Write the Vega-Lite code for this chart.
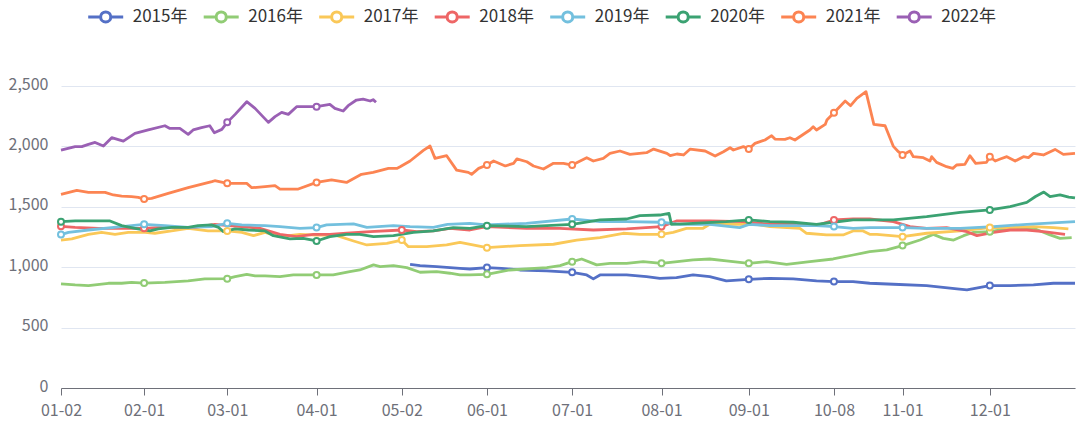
{
"$schema":"https://vega.github.io/schema/vega-lite/v6.json",
"width":1014,"height":302,
"autosize":{"type":"none"},
"padding":{"left":61,"top":86,"right":5,"bottom":35},
"background":"white",
"config":{"view":{"stroke":null},"font":"Noto Sans CJK SC"},
"data":{"values":[
{"s":"2015年","d":84,"v":1024},{"s":"2015年","d":86.4,"v":1013},{"s":"2015年","d":90.4,"v":1005},{"s":"2015年","d":93.6,"v":997},{"s":"2015年","d":96,"v":991},{"s":"2015年","d":98.4,"v":985},{"s":"2015年","d":102.5,"v":997,"m":1},{"s":"2015年","d":106,"v":990},{"s":"2015年","d":110.4,"v":977},{"s":"2015年","d":116.9,"v":969},{"s":"2015年","d":123,"v":958,"m":1},{"s":"2015年","d":126.5,"v":936},{"s":"2015年","d":128.1,"v":903},{"s":"2015年","d":129.7,"v":936},{"s":"2015年","d":136.1,"v":936},{"s":"2015年","d":140.9,"v":922},{"s":"2015年","d":144.1,"v":908},{"s":"2015年","d":148.1,"v":914},{"s":"2015年","d":152.1,"v":936},{"s":"2015年","d":156.1,"v":922},{"s":"2015年","d":160.1,"v":886},{"s":"2015年","d":165.5,"v":900,"m":1},{"s":"2015年","d":170.6,"v":908},{"s":"2015年","d":176.2,"v":903},{"s":"2015年","d":181.8,"v":886},{"s":"2015年","d":186,"v":881,"m":1},{"s":"2015年","d":190.6,"v":881},{"s":"2015年","d":194.6,"v":867},{"s":"2015年","d":200.3,"v":859},{"s":"2015年","d":208.3,"v":848},{"s":"2015年","d":215.6,"v":820},{"s":"2015年","d":218,"v":812},{"s":"2015年","d":223.5,"v":848,"m":1},{"s":"2015年","d":228.4,"v":848},{"s":"2015年","d":234,"v":853},{"s":"2015年","d":238.8,"v":867},{"s":"2015年","d":244,"v":867},
{"s":"2016年","d":0,"v":862},{"s":"2016年","d":3.4,"v":853},{"s":"2016年","d":6.6,"v":848},{"s":"2016年","d":11.4,"v":867},{"s":"2016年","d":14.6,"v":867},{"s":"2016年","d":17,"v":875},{"s":"2016年","d":20,"v":869,"m":1},{"s":"2016年","d":25,"v":875},{"s":"2016年","d":30.6,"v":886},{"s":"2016年","d":34.6,"v":903},{"s":"2016年","d":40,"v":905,"m":1},{"s":"2016年","d":41.9,"v":922},{"s":"2016年","d":44.7,"v":941},{"s":"2016年","d":46.7,"v":928},{"s":"2016年","d":49.1,"v":928},{"s":"2016年","d":52.7,"v":922},{"s":"2016年","d":55.9,"v":936},{"s":"2016年","d":61.5,"v":936,"m":1},{"s":"2016年","d":65.5,"v":936},{"s":"2016年","d":69.5,"v":963},{"s":"2016年","d":71.9,"v":977},{"s":"2016年","d":75.2,"v":1019},{"s":"2016年","d":76.8,"v":1005},{"s":"2016年","d":80,"v":1013},{"s":"2016年","d":83.2,"v":997},{"s":"2016年","d":86.4,"v":958},{"s":"2016年","d":90.4,"v":963},{"s":"2016年","d":93.6,"v":950},{"s":"2016年","d":96,"v":936},{"s":"2016年","d":98.4,"v":936},{"s":"2016年","d":102.5,"v":941,"m":1},{"s":"2016年","d":108,"v":977},{"s":"2016年","d":116.9,"v":997},{"s":"2016年","d":120.1,"v":1013},{"s":"2016年","d":123,"v":1046,"m":1},{"s":"2016年","d":125.3,"v":1068},{"s":"2016年","d":128.9,"v":1019},{"s":"2016年","d":132.1,"v":1032},{"s":"2016年","d":136.1,"v":1032},{"s":"2016年","d":140.1,"v":1046},{"s":"2016年","d":144.5,"v":1032,"m":1},{"s":"2016年","d":152.1,"v":1060},{"s":"2016年","d":156.1,"v":1068},{"s":"2016年","d":160.1,"v":1052},{"s":"2016年","d":165.5,"v":1032,"m":1},{"s":"2016年","d":169.8,"v":1046},{"s":"2016年","d":174.6,"v":1024},{"s":"2016年","d":180.2,"v":1046},{"s":"2016年","d":185.8,"v":1068},{"s":"2016年","d":190.6,"v":1101},{"s":"2016年","d":194.6,"v":1129},{"s":"2016年","d":198.7,"v":1143},{"s":"2016年","d":202.5,"v":1179,"m":1},{"s":"2016年","d":206.7,"v":1225},{"s":"2016年","d":209.9,"v":1272},{"s":"2016年","d":212.3,"v":1239},{"s":"2016年","d":214.8,"v":1225},{"s":"2016年","d":217.2,"v":1261},{"s":"2016年","d":219.6,"v":1289},{"s":"2016年","d":223.5,"v":1294,"m":1},{"s":"2016年","d":228.4,"v":1322},{"s":"2016年","d":234,"v":1322},{"s":"2016年","d":238,"v":1267},{"s":"2016年","d":240.4,"v":1239},{"s":"2016年","d":243.2,"v":1245},
{"s":"2017年","d":0,"v":1225},{"s":"2017年","d":2.6,"v":1234},{"s":"2017年","d":6.6,"v":1272},{"s":"2017年","d":9.8,"v":1289},{"s":"2017年","d":13,"v":1272},{"s":"2017年","d":16.2,"v":1289},{"s":"2017年","d":20.2,"v":1289},{"s":"2017年","d":22.6,"v":1281},{"s":"2017年","d":26.6,"v":1300},{"s":"2017年","d":30.6,"v":1322},{"s":"2017年","d":35.4,"v":1300},{"s":"2017年","d":40,"v":1300,"m":1},{"s":"2017年","d":43.5,"v":1289},{"s":"2017年","d":46.3,"v":1261},{"s":"2017年","d":49.1,"v":1289},{"s":"2017年","d":52.7,"v":1253},{"s":"2017年","d":57.5,"v":1272},{"s":"2017年","d":61.5,"v":1265},{"s":"2017年","d":66,"v":1265},{"s":"2017年","d":70.4,"v":1217},{"s":"2017年","d":73.6,"v":1184},{"s":"2017年","d":78.4,"v":1198},{"s":"2017年","d":82,"v":1225,"m":1},{"s":"2017年","d":83.6,"v":1170},{"s":"2017年","d":88,"v":1170},{"s":"2017年","d":92.8,"v":1184},{"s":"2017年","d":96,"v":1205},{"s":"2017年","d":102.5,"v":1162,"m":1},{"s":"2017年","d":110.4,"v":1179},{"s":"2017年","d":118.5,"v":1190},{"s":"2017年","d":124.1,"v":1225},{"s":"2017年","d":129.7,"v":1245},{"s":"2017年","d":135.3,"v":1281},{"s":"2017年","d":139.3,"v":1272},{"s":"2017年","d":144.5,"v":1272,"m":1},{"s":"2017年","d":147.3,"v":1289},{"s":"2017年","d":150.5,"v":1322},{"s":"2017年","d":154.5,"v":1322},{"s":"2017年","d":156.1,"v":1355},{"s":"2017年","d":164.1,"v":1355},{"s":"2017年","d":165.8,"v":1363},{"s":"2017年","d":170.6,"v":1336},{"s":"2017年","d":177.8,"v":1322},{"s":"2017年","d":179.4,"v":1281},{"s":"2017年","d":184.2,"v":1267},{"s":"2017年","d":188.2,"v":1267},{"s":"2017年","d":190.6,"v":1300},{"s":"2017年","d":193,"v":1300},{"s":"2017年","d":194.6,"v":1272},{"s":"2017年","d":196.3,"v":1272},{"s":"2017年","d":202.5,"v":1253,"m":1},{"s":"2017年","d":208.3,"v":1281},{"s":"2017年","d":216.4,"v":1300},{"s":"2017年","d":223.5,"v":1328,"m":1},{"s":"2017年","d":228.4,"v":1328},{"s":"2017年","d":234,"v":1336},{"s":"2017年","d":238.8,"v":1328},{"s":"2017年","d":242.4,"v":1317},
{"s":"2018年","d":0,"v":1338,"m":1},{"s":"2018年","d":3.4,"v":1330},{"s":"2018年","d":9,"v":1322},{"s":"2018年","d":14.6,"v":1322},{"s":"2018年","d":20,"v":1322,"m":1},{"s":"2018年","d":24.2,"v":1330},{"s":"2018年","d":32.2,"v":1330},{"s":"2018年","d":37,"v":1355},{"s":"2018年","d":40.3,"v":1344},{"s":"2018年","d":43.5,"v":1336},{"s":"2018年","d":47.9,"v":1322},{"s":"2018年","d":52.7,"v":1272},{"s":"2018年","d":56.7,"v":1253},{"s":"2018年","d":60.7,"v":1272},{"s":"2018年","d":64.7,"v":1272},{"s":"2018年","d":68.7,"v":1281},{"s":"2018年","d":74.4,"v":1294},{"s":"2018年","d":82,"v":1308,"m":1},{"s":"2018年","d":85.6,"v":1294},{"s":"2018年","d":89.6,"v":1300},{"s":"2018年","d":93.6,"v":1322},{"s":"2018年","d":98.4,"v":1308},{"s":"2018年","d":102.4,"v":1336},{"s":"2018年","d":112,"v":1322},{"s":"2018年","d":120,"v":1322},{"s":"2018年","d":128.1,"v":1308},{"s":"2018年","d":136.1,"v":1317},{"s":"2018年","d":144.5,"v":1336,"m":1},{"s":"2018年","d":148.1,"v":1383},{"s":"2018年","d":156.1,"v":1383},{"s":"2018年","d":164.1,"v":1377},{"s":"2018年","d":170.6,"v":1355},{"s":"2018年","d":176.2,"v":1363},{"s":"2018年","d":181.8,"v":1344},{"s":"2018年","d":186,"v":1391,"m":1},{"s":"2018年","d":190.6,"v":1399},{"s":"2018年","d":194.6,"v":1399},{"s":"2018年","d":200.3,"v":1377},{"s":"2018年","d":204.3,"v":1336},{"s":"2018年","d":208.3,"v":1322},{"s":"2018年","d":213.1,"v":1328},{"s":"2018年","d":218,"v":1294},{"s":"2018年","d":220.4,"v":1261},{"s":"2018年","d":224.4,"v":1289},{"s":"2018年","d":228.4,"v":1308},{"s":"2018年","d":232.4,"v":1308},{"s":"2018年","d":236.4,"v":1294},{"s":"2018年","d":241.6,"v":1272},
{"s":"2019年","d":0,"v":1270,"m":1},{"s":"2019年","d":1.8,"v":1289},{"s":"2019年","d":6.6,"v":1308},{"s":"2019年","d":14.6,"v":1336},{"s":"2019年","d":20,"v":1355,"m":1},{"s":"2019年","d":25,"v":1344},{"s":"2019年","d":30.6,"v":1330},{"s":"2019年","d":36.2,"v":1336},{"s":"2019年","d":40,"v":1363,"m":1},{"s":"2019年","d":43.5,"v":1350},{"s":"2019年","d":49.1,"v":1344},{"s":"2019年","d":52.7,"v":1336},{"s":"2019年","d":57.5,"v":1322},{"s":"2019年","d":61.5,"v":1328,"m":1},{"s":"2019年","d":63.9,"v":1350},{"s":"2019年","d":70.4,"v":1358},{"s":"2019年","d":73.6,"v":1330},{"s":"2019年","d":80,"v":1344},{"s":"2019年","d":84,"v":1336},{"s":"2019年","d":89.6,"v":1330},{"s":"2019年","d":93,"v":1355},{"s":"2019年","d":98.4,"v":1363},{"s":"2019年","d":102.4,"v":1350},{"s":"2019年","d":112,"v":1363},{"s":"2019年","d":123,"v":1399,"m":1},{"s":"2019年","d":129.7,"v":1377},{"s":"2019年","d":136.1,"v":1377},{"s":"2019年","d":144.5,"v":1372,"m":1},{"s":"2019年","d":148.9,"v":1355},{"s":"2019年","d":156.1,"v":1355},{"s":"2019年","d":163.3,"v":1328},{"s":"2019年","d":165.6,"v":1355},{"s":"2019年","d":170.6,"v":1344},{"s":"2019年","d":176.2,"v":1344},{"s":"2019年","d":181.8,"v":1344},{"s":"2019年","d":186,"v":1336,"m":1},{"s":"2019年","d":190.6,"v":1322},{"s":"2019年","d":194.6,"v":1328},{"s":"2019年","d":202.5,"v":1328,"m":1},{"s":"2019年","d":208.3,"v":1322},{"s":"2019年","d":216.4,"v":1322},{"s":"2019年","d":224.4,"v":1336},{"s":"2019年","d":232.4,"v":1355},{"s":"2019年","d":244,"v":1377},
{"s":"2020年","d":0,"v":1377,"m":1},{"s":"2020年","d":3.4,"v":1383},{"s":"2020年","d":6.6,"v":1383},{"s":"2020年","d":11.8,"v":1383},{"s":"2020年","d":14.6,"v":1344},{"s":"2020年","d":17.8,"v":1322},{"s":"2020年","d":21.4,"v":1300},{"s":"2020年","d":23.4,"v":1317},{"s":"2020年","d":26.6,"v":1330},{"s":"2020年","d":30.6,"v":1330},{"s":"2020年","d":33,"v":1344},{"s":"2020年","d":36.2,"v":1350},{"s":"2020年","d":37.9,"v":1330},{"s":"2020年","d":39.1,"v":1294},{"s":"2020年","d":41.9,"v":1317},{"s":"2020年","d":45.1,"v":1308},{"s":"2020年","d":49.1,"v":1300},{"s":"2020年","d":51.1,"v":1261},{"s":"2020年","d":55.1,"v":1234},{"s":"2020年","d":58.3,"v":1239},{"s":"2020年","d":61.5,"v":1217,"m":1},{"s":"2020年","d":64.7,"v":1253},{"s":"2020年","d":68.7,"v":1272},{"s":"2020年","d":71.9,"v":1272},{"s":"2020年","d":75.2,"v":1253},{"s":"2020年","d":80,"v":1261},{"s":"2020年","d":84.8,"v":1289},{"s":"2020年","d":89.6,"v":1300},{"s":"2020年","d":94.4,"v":1328},{"s":"2020年","d":98.4,"v":1322},{"s":"2020年","d":102.5,"v":1344,"m":1},{"s":"2020年","d":112,"v":1336},{"s":"2020年","d":123,"v":1355,"m":1},{"s":"2020年","d":129.7,"v":1391},{"s":"2020年","d":136.1,"v":1399},{"s":"2020年","d":139.3,"v":1427},{"s":"2020年","d":144.1,"v":1432},{"s":"2020年","d":146.3,"v":1446},{"s":"2020年","d":146.9,"v":1355},{"s":"2020年","d":152.1,"v":1363},{"s":"2020年","d":160.1,"v":1377},{"s":"2020年","d":165.5,"v":1391,"m":1},{"s":"2020年","d":170.6,"v":1377},{"s":"2020年","d":176.2,"v":1372},{"s":"2020年","d":181.8,"v":1355},{"s":"2020年","d":185.8,"v":1372},{"s":"2020年","d":190.6,"v":1391},{"s":"2020年","d":194.6,"v":1391},{"s":"2020年","d":200.3,"v":1391},{"s":"2020年","d":208.3,"v":1419},{"s":"2020年","d":216.4,"v":1454},{"s":"2020年","d":223.5,"v":1474,"m":1},{"s":"2020年","d":228.4,"v":1501},{"s":"2020年","d":232.4,"v":1537},{"s":"2020年","d":234.5,"v":1585},{"s":"2020年","d":236.5,"v":1622},{"s":"2020年","d":238,"v":1584},{"s":"2020年","d":240.4,"v":1598},{"s":"2020年","d":242.5,"v":1580},{"s":"2020年","d":244,"v":1573},
{"s":"2021年","d":0,"v":1603},{"s":"2021年","d":3.8,"v":1636},{"s":"2021年","d":6.6,"v":1620},{"s":"2021年","d":10.6,"v":1620},{"s":"2021年","d":12.6,"v":1598},{"s":"2021年","d":14.6,"v":1589},{"s":"2021年","d":17,"v":1584},{"s":"2021年","d":18.6,"v":1578},{"s":"2021年","d":20,"v":1564,"m":1},{"s":"2021年","d":21.8,"v":1570},{"s":"2021年","d":25.8,"v":1611},{"s":"2021年","d":30.6,"v":1658},{"s":"2021年","d":36.3,"v":1708},{"s":"2021年","d":37,"v":1716},{"s":"2021年","d":40,"v":1694,"m":1},{"s":"2021年","d":42.3,"v":1694},{"s":"2021年","d":44.7,"v":1694},{"s":"2021年","d":45.9,"v":1658},{"s":"2021年","d":49.1,"v":1667},{"s":"2021年","d":51.5,"v":1675},{"s":"2021年","d":52.7,"v":1647},{"s":"2021年","d":57.1,"v":1647},{"s":"2021年","d":61.5,"v":1702,"m":1},{"s":"2021年","d":65.1,"v":1722},{"s":"2021年","d":68.7,"v":1702},{"s":"2021年","d":72.3,"v":1769},{"s":"2021年","d":75.1,"v":1785},{"s":"2021年","d":78.8,"v":1818},{"s":"2021年","d":80.8,"v":1818},{"s":"2021年","d":81.6,"v":1832},{"s":"2021年","d":84,"v":1879},{"s":"2021年","d":87.2,"v":1967},{"s":"2021年","d":88.8,"v":2003},{"s":"2021年","d":90,"v":1901},{"s":"2021年","d":92.8,"v":1923},{"s":"2021年","d":95.2,"v":1804},{"s":"2021年","d":98,"v":1785},{"s":"2021年","d":98.8,"v":1769},{"s":"2021年","d":100.5,"v":1818},{"s":"2021年","d":102.5,"v":1846,"m":1},{"s":"2021年","d":104.1,"v":1879},{"s":"2021年","d":106.9,"v":1838},{"s":"2021年","d":108.9,"v":1860},{"s":"2021年","d":109.7,"v":1896},{"s":"2021年","d":112.1,"v":1873},{"s":"2021年","d":113.7,"v":1838},{"s":"2021年","d":116.1,"v":1813},{"s":"2021年","d":118.5,"v":1860},{"s":"2021年","d":120.9,"v":1860},{"s":"2021年","d":123,"v":1846,"m":1},{"s":"2021年","d":126.5,"v":1907},{"s":"2021年","d":128.1,"v":1879},{"s":"2021年","d":130.5,"v":1901},{"s":"2021年","d":132.1,"v":1942},{"s":"2021年","d":134.5,"v":1962},{"s":"2021年","d":136.9,"v":1934},{"s":"2021年","d":140.9,"v":1948},{"s":"2021年","d":142.6,"v":1978},{"s":"2021年","d":145.8,"v":1942},{"s":"2021年","d":146.6,"v":1923},{"s":"2021年","d":148.2,"v":1937},{"s":"2021年","d":149.8,"v":1929},{"s":"2021年","d":151.4,"v":1978},{"s":"2021年","d":155,"v":1962},{"s":"2021年","d":157.4,"v":1920},{"s":"2021年","d":159.4,"v":1956},{"s":"2021年","d":161,"v":1989},{"s":"2021年","d":161.8,"v":1970},{"s":"2021年","d":164.2,"v":1998},{"s":"2021年","d":165.5,"v":1978,"m":1},{"s":"2021年","d":167,"v":2025},{"s":"2021年","d":169.4,"v":2053},{"s":"2021年","d":171,"v":2089},{"s":"2021年","d":171.8,"v":2061},{"s":"2021年","d":174.2,"v":2058},{"s":"2021年","d":175.4,"v":2072},{"s":"2021年","d":176.6,"v":2053},{"s":"2021年","d":180.2,"v":2136},{"s":"2021年","d":181,"v":2163},{"s":"2021年","d":181.8,"v":2136},{"s":"2021年","d":183.9,"v":2182},{"s":"2021年","d":184.3,"v":2218},{"s":"2021年","d":186,"v":2279,"m":1},{"s":"2021年","d":188.7,"v":2376},{"s":"2021年","d":190,"v":2337},{"s":"2021年","d":191.5,"v":2398},{"s":"2021年","d":193.7,"v":2453},{"s":"2021年","d":195.6,"v":2182},{"s":"2021年","d":198.3,"v":2171},{"s":"2021年","d":200.3,"v":2000},{"s":"2021年","d":201.5,"v":1956},{"s":"2021年","d":202.5,"v":1929,"m":1},{"s":"2021年","d":204.3,"v":1962},{"s":"2021年","d":205.1,"v":1915},{"s":"2021年","d":207.5,"v":1907},{"s":"2021年","d":209.1,"v":1879},{"s":"2021年","d":209.5,"v":1915},{"s":"2021年","d":210.7,"v":1868},{"s":"2021年","d":213.1,"v":1832},{"s":"2021年","d":214.6,"v":1818},{"s":"2021年","d":215.5,"v":1846},{"s":"2021年","d":217.5,"v":1851},{"s":"2021年","d":218.7,"v":1923},{"s":"2021年","d":220.1,"v":1860},{"s":"2021年","d":222.7,"v":1868},{"s":"2021年","d":223.5,"v":1915,"m":1},{"s":"2021年","d":224.8,"v":1879},{"s":"2021年","d":226,"v":1896},{"s":"2021年","d":227.6,"v":1915},{"s":"2021年","d":229.6,"v":1879},{"s":"2021年","d":231.6,"v":1915},{"s":"2021年","d":232.8,"v":1907},{"s":"2021年","d":234,"v":1942},{"s":"2021年","d":236.4,"v":1929},{"s":"2021年","d":239.2,"v":1975},{"s":"2021年","d":241.2,"v":1934},{"s":"2021年","d":244,"v":1942},
{"s":"2022年","d":0,"v":1970},{"s":"2022年","d":3.4,"v":1998},{"s":"2022年","d":5,"v":1998},{"s":"2022年","d":6.6,"v":2017},{"s":"2022年","d":8.2,"v":2033},{"s":"2022年","d":10.2,"v":2003},{"s":"2022年","d":12.2,"v":2072},{"s":"2022年","d":15,"v":2044},{"s":"2022年","d":17.8,"v":2108},{"s":"2022年","d":21,"v":2136},{"s":"2022年","d":25,"v":2171},{"s":"2022年","d":26.2,"v":2149},{"s":"2022年","d":28.6,"v":2149},{"s":"2022年","d":30.6,"v":2100},{"s":"2022年","d":31.8,"v":2136},{"s":"2022年","d":33.8,"v":2155},{"s":"2022年","d":35.8,"v":2171},{"s":"2022年","d":36.9,"v":2113},{"s":"2022年","d":38.7,"v":2141},{"s":"2022年","d":40,"v":2199,"m":1},{"s":"2022年","d":41.9,"v":2265},{"s":"2022年","d":44.7,"v":2370},{"s":"2022年","d":46.7,"v":2315},{"s":"2022年","d":49.9,"v":2199},{"s":"2022年","d":51.5,"v":2246},{"s":"2022年","d":53.1,"v":2282},{"s":"2022年","d":54.7,"v":2265},{"s":"2022年","d":56.7,"v":2329},{"s":"2022年","d":61.5,"v":2329,"m":1},{"s":"2022年","d":64.7,"v":2348},{"s":"2022年","d":65.9,"v":2315},{"s":"2022年","d":67.9,"v":2293},{"s":"2022年","d":69.1,"v":2337},{"s":"2022年","d":71.1,"v":2384},{"s":"2022年","d":72.7,"v":2392},{"s":"2022年","d":74.4,"v":2376},{"s":"2022年","d":75.1,"v":2387},{"s":"2022年","d":75.8,"v":2365}
]},
"encoding":{
"x":{"field":"d","type":"quantitative","scale":{"domain":[0,244],"nice":false,"zero":false},
"axis":{"title":null,"grid":false,"values":[0,20,40,61.5,82,102.5,123,144.5,165.5,186,202.5,223.5],
"labelExpr":"['01-02','02-01','03-01','04-01','05-02','06-01','07-01','08-01','09-01','10-08','11-01','12-01'][indexof([0,20,40,61.5,82,102.5,123,144.5,165.5,186,202.5,223.5], datum.value)]",
"domainColor":"#6E7079","tickColor":"#6E7079","tickSize":7,"labelColor":"#6E7079","labelFontSize":16,"labelPadding":7,"labelFlush":false,"labelOverlap":false}},
"y":{"field":"v","type":"quantitative","scale":{"domain":[0,2500],"nice":false},
"axis":{"title":null,"values":[0,500,1000,1500,2000,2500],"format":",d","domain":false,"ticks":false,"gridColor":"#E0E6F1","labelColor":"#6E7079","labelFontSize":16,"labelPadding":13,"labelOffset":-2}},
"color":{"field":"s","type":"nominal",
"scale":{"domain":["2015年","2016年","2017年","2018年","2019年","2020年","2021年","2022年"],"range":["#5470c6","#91cc75","#fac858","#ee6666","#73c0de","#3ba272","#fc8452","#9a60b4"]},
"legend":{"orient":"none","legendX":25.7,"legendY":-88.5,"direction":"horizontal","columns":8,"title":null,"padding":0,
"symbolType":"M-1,0L-0.34,0M0.34,0L1,0M-0.29,0A0.29,0.29 0 1,1 0.29,0A0.29,0.29 0 1,1 -0.29,0",
"symbolSize":1225,"symbolStrokeWidth":3,"symbolFillColor":"white","symbolOpacity":1,
"labelFontSize":17,"labelColor":"#333333","labelOffset":8,"columnPadding":9.5}}
},
"layer":[
{"mark":{"type":"line","strokeWidth":2.8,"strokeJoin":"round"}},
{"transform":[{"filter":"datum.m === 1"}],"mark":{"type":"point","filled":false,"fill":"white","fillOpacity":1,"opacity":1,"size":36,"strokeWidth":2}}
]
}
